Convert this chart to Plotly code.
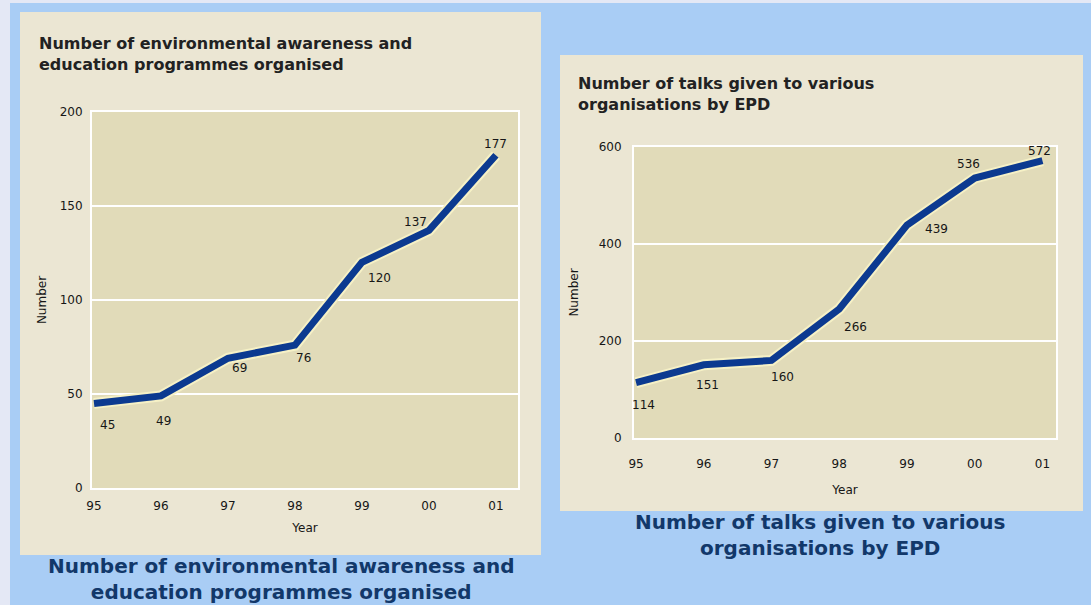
import plotly.graph_objects as go
from plotly.subplots import make_subplots

# data
years = ["95", "96", "97", "98", "99", "00", "01"]
programmes = [45, 49, 69, 76, 120, 137, 177]
talks = [114, 151, 160, 266, 439, 536, 572]

# where each value label sits relative to its point (pixels, right / down)
prog_offsets = [(13, 22), (3, 25), (12, 10), (9, 13), (18, 16), (-13, -8), (0, -11)]
talk_offsets = [(7, 22), (4, 20), (11, 17), (16, 18), (30, 4), (-6, -14), (-3, -10)]

W, H = 1091, 605
BLUE_BG = "#a9cdf5"
PALE = "#e4e8f5"
PANEL = "#ebe6d3"
PLOT_BG = "#e1dbb9"
LINE = "#0c3a90"
CAPTION = "#12386a"
TEXT = "#161616"
FONT = "DejaVu Sans"


def px(x):
    return x / W


def py(y):
    return 1 - y / H


fig = make_subplots(rows=1, cols=2)

xs = list(range(len(years)))
label_annots = []
for col, vals, offs in [(1, programmes, prog_offsets), (2, talks, talk_offsets)]:
    # faint halo under the line
    fig.add_trace(go.Scatter(x=xs, y=vals, mode="lines",
                             line=dict(color="#f6f1c6", width=11),
                             hoverinfo="skip", showlegend=False), row=1, col=col)
    fig.add_trace(go.Scatter(x=xs, y=vals, mode="lines",
                             line=dict(color=LINE, width=7),
                             showlegend=False), row=1, col=col)
    ax = "" if col == 1 else str(col)
    for i, v in enumerate(vals):
        dx, dy = offs[i]
        label_annots.append(dict(x=i, y=v, xref="x" + ax, yref="y" + ax, text=str(v),
                                 showarrow=False, xshift=dx, yshift=-dy,
                                 font=dict(family=FONT, size=12, color=TEXT)))

axis_common = dict(gridcolor="white", gridwidth=2, automargin=False,
                   showline=True, linecolor="white", linewidth=2, mirror=True,
                   zeroline=False, ticks="outside", tickcolor="rgba(0,0,0,0)",
                   tickfont=dict(family=FONT, size=12, color=TEXT))

fig.update_xaxes(**axis_common, tickmode="array", tickvals=xs, ticktext=years,
                 showgrid=False)
fig.update_yaxes(**axis_common, showgrid=True)

title_font = dict(family=FONT, size=12, color=TEXT)
fig.update_xaxes(domain=[px(92), px(518)], range=[-0.03, 6.33], ticklen=6,
                 title=dict(text="Year", font=title_font, standoff=11), row=1, col=1)
fig.update_yaxes(domain=[py(488), py(112)], range=[0, 200], tickvals=[0, 50, 100, 150, 200],
                 ticklen=5, title=dict(text="Number", font=title_font, standoff=10),
                 row=1, col=1)
fig.update_xaxes(domain=[px(634), px(1056)], range=[-0.03, 6.2], ticklen=14,
                 title=dict(text="Year", font=title_font, standoff=15), row=1, col=2)
fig.update_yaxes(domain=[py(438), py(147)], range=[0, 600], tickvals=[0, 200, 400, 600],
                 ticklen=8, title=dict(text="Number", font=title_font, standoff=17),
                 row=1, col=2)

shapes = [
    # pale strips at the left and top edge
    dict(x0=0, x1=px(10), y0=0, y1=1, fillcolor=PALE),
    dict(x0=0, x1=1, y0=py(3), y1=1, fillcolor=PALE),
    # panels
    dict(x0=px(20), x1=px(541), y0=py(555), y1=py(12), fillcolor=PANEL),
    dict(x0=px(560), x1=px(1083), y0=py(511), y1=py(55), fillcolor=PANEL),
    # plot areas
    dict(x0=px(92), x1=px(518), y0=py(488), y1=py(112), fillcolor=PLOT_BG),
    dict(x0=px(634), x1=px(1056), y0=py(438), y1=py(147), fillcolor=PLOT_BG),
]
for s in shapes:
    s.update(type="rect", xref="paper", yref="paper", line_width=0, layer="below")

titles = [
    dict(text="<b>Number of environmental awareness and<br>education programmes organised</b>",
         x=px(37), y=py(32)),
    dict(text="<b>Number of talks given to various<br>organisations by EPD</b>",
         x=px(576), y=py(72)),
]
for a in titles:
    a.update(xref="paper", yref="paper", xanchor="left", yanchor="top", align="left",
             showarrow=False, font=dict(family=FONT, size=16, color="#222"))

captions = [
    dict(text="<b>Number of environmental awareness and<br>education programmes organised</b>",
         x=px(281), y=py(552)),
    dict(text="<b>Number of talks given to various<br>organisations by EPD</b>",
         x=px(820), y=py(508)),
]
for c in captions:
    c.update(xref="paper", yref="paper", xanchor="center", yanchor="top", align="center",
             showarrow=False, font=dict(family=FONT, size=20, color=CAPTION))

fig.update_layout(
    width=W, height=H,
    margin=dict(l=0, r=0, t=0, b=0, autoexpand=False),
    paper_bgcolor=BLUE_BG,
    plot_bgcolor=PLOT_BG,
    shapes=shapes,
    annotations=titles + captions + label_annots,
    showlegend=False,
)

fig.write_html("out.html", config={"displayModeBar": False},
               post_script="document.body.style.margin='0px';")
